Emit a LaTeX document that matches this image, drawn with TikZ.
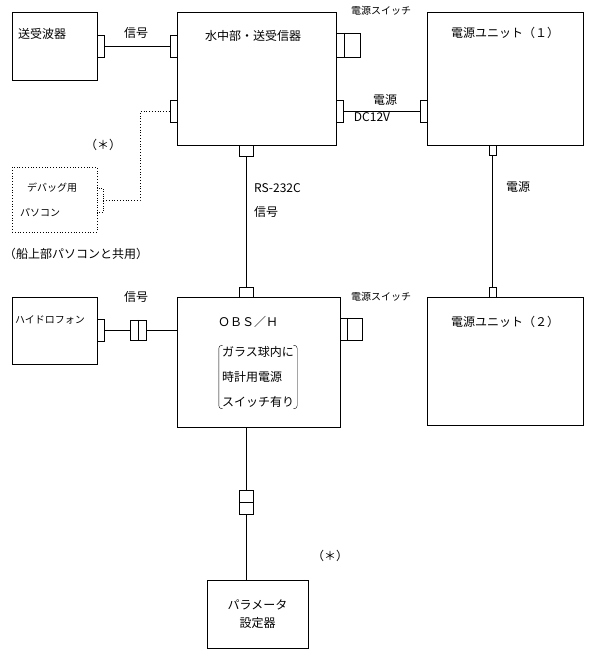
\documentclass[tikz,border=0pt]{standalone}
\usepackage{fontspec}
\setmainfont{Noto Sans CJK JP}
\begin{document}
\begin{tikzpicture}[x=1pt, y=-1pt, font=\fontsize{12}{14}\selectfont]
      \tikzset{box/.style={draw, thick, inner sep=0pt},
               plug/.style={draw, fill=white, inner sep=0pt},
               lbl/.style={inner sep=1pt}}
      \useasboundingbox (0,0) rectangle (600,652);

      % units
      \node[box, minimum width=85, minimum height=68] (tr) at (54.5,46) {};
      \node[lbl, anchor=north west] at (17,27) {送受波器};
      \node[box, minimum width=159, minimum height=133] (main) at (256.5,78.5) {};
      \node[lbl] at (253,36) {水中部・送受信器};
      \node[box, dotted, minimum width=85, minimum height=65] (pc) at (54.5,199.5) {};
      \node[lbl, font=\fontsize{10}{12}\selectfont] at (52,188) {デバッグ用};
      \node[lbl, font=\fontsize{10}{12}\selectfont] at (40,213) {パソコン};
      \node[box, minimum width=156, minimum height=133] (pu1) at (505,78.5) {};
      \node[lbl] at (505,33) {電源ユニット（１）};
      \node[box, minimum width=156, minimum height=128] (pu2) at (505,361) {};
      \node[lbl] at (505,322) {電源ユニット（２）};
      \node[box, minimum width=85, minimum height=67] (hyd) at (54.5,330.5) {};
      \node[lbl, font=\fontsize{10}{12}\selectfont] at (50,320) {ハイドロフォン};
      \node[box, minimum width=163, minimum height=130] (obs) at (258.5,362) {};
      \node[lbl] at (248,322) {ＯＢＳ／Ｈ};
      \node[lbl, align=left, inner xsep=3pt] (note) at (258,377) {ガラス球内に\\[11pt]時計用電源\\[11pt]スイッチ有り};
      \draw[rounded corners=3] ([xshift=4]note.north west) -- (note.north west) -- (note.south west) -- ++(4,0);
      \draw[rounded corners=3] ([xshift=-4]note.north east) -- (note.north east) -- (note.south east) -- ++(-4,0);
      \node[box, minimum width=101, minimum height=68] (par) at (257.5,614) {};
      \node[lbl, align=center] at (257.5,614) {パラメータ\\[4pt]設定器};

      % plugs
      \node[plug, minimum width=7, minimum height=22] (trp) at (100.5,46) {};
      \node[plug, minimum width=7, minimum height=22] (mp1) at (173.5,46) {};
      \node[plug, minimum width=7, minimum height=22] (mp2) at (173.5,111.5) {};
      \node[plug, minimum width=7, minimum height=22] (mp3) at (339.5,111.5) {};
      \node[plug, minimum width=14, minimum height=11] (mp4) at (246,150.5) {};
      \node[plug, minimum width=24, minimum height=24] (msw) at (348,45) {};
      \draw (msw.north) ++(-4,0) -- ++(0,24);
      \node[plug, dotted, minimum width=6, minimum height=24] (pcp) at (100,200) {};
      \node[plug, minimum width=7, minimum height=22] (pp1) at (423.5,111.5) {};
      \node[plug, minimum width=7, minimum height=10] (pp2) at (492.5,150) {};
      \node[plug, minimum width=7, minimum height=10] (pp3) at (492.5,292) {};
      \node[plug, minimum width=14, minimum height=10] (op1) at (246,292) {};
      \node[plug, minimum width=22, minimum height=22] (osw) at (351,329) {};
      \draw (osw.north) ++(-4,0) -- ++(0,22);
      \node[plug, minimum width=7, minimum height=22] (hp) at (100.5,330) {};
      \node[plug, minimum width=16, minimum height=20] (hc) at (138,330) {};
      \draw (hc.north) -- (hc.south);
      \node[plug, minimum width=14, minimum height=24] (pc2) at (246,502) {};
      \draw (pc2.west) -- (pc2.east);

      % lines
      \draw[thick] (trp) -- (mp1);
      \draw[thick] (mp3) -- (pp1);
      \draw[thick] (pp2) -- (pp3);
      \draw[thick] (mp4) -- (op1);
      \draw[thick] (hp) -- (hc) -- (obs.west |- hc);
      \draw[thick] (obs.south -| pc2) -- (pc2) -- (par.north -| pc2);
      \draw[thick, dotted] (pcp.east) -- (140,200) -- (140,111.5) -- (mp2.west);

      % labels
      \node[lbl] at (136,33) {信号};
      \node[lbl] at (136,297) {信号};
      \node[lbl, font=\fontsize{10}{12}\selectfont] at (381,11) {電源スイッチ};
      \node[lbl, font=\fontsize{10}{12}\selectfont] at (381,297) {電源スイッチ};
      \node[lbl] at (385,100) {電源};
      \node[lbl] at (372,117) {DC12V};
      \node[lbl] at (103,145) {（＊）};
      \node[lbl] at (330,556) {（＊）};
      \node[lbl] at (76,254) {（船上部パソコンと共用）};
      \node[lbl, anchor=west] at (253,188) {RS-232C};
      \node[lbl, anchor=west] at (253,212) {信号};
      \node[lbl] at (518,187) {電源};
    \end{tikzpicture}
\end{document}
